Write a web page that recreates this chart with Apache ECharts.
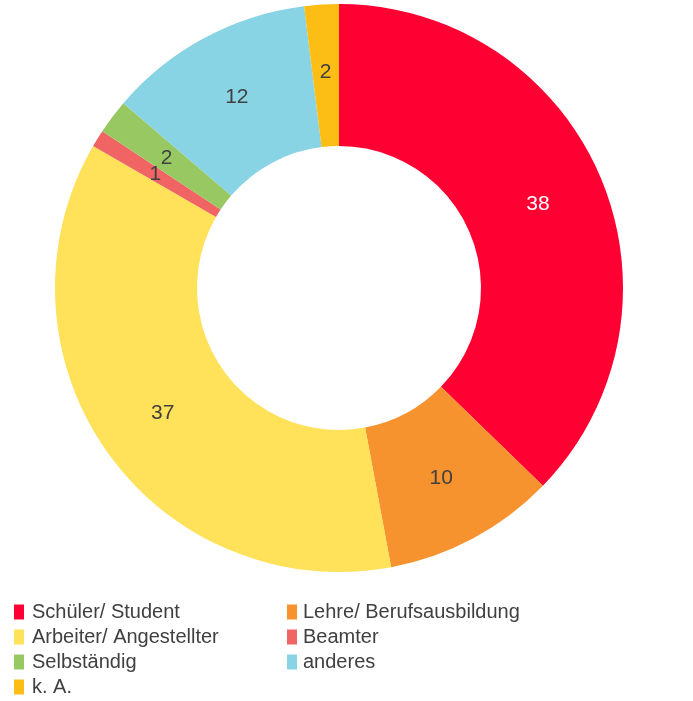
<!DOCTYPE html>
<html lang="de">
<head>
<meta charset="utf-8">
<title>Tätigkeit</title>
<style>
  html, body { margin: 0; padding: 0; background: #fff; }
  #chart { width: 693px; height: 701px; }
</style>
</head>
<body>
<div id="chart"></div>
<script src="https://cdn.jsdelivr.net/npm/echarts@6/dist/echarts.min.js"></script>
<script>
  var categories = ['Schüler/ Student', 'Lehre/ Berufsausbildung', 'Arbeiter/ Angestellter',
    'Beamter', 'Selbständig', 'anderes', 'k. A.'];
  var values = [38, 10, 37, 1, 2, 12, 2];
  var colors = ['#FF0033', '#F7932F', '#FFE15A', '#F06464', '#98C862', '#88D3E4', '#FCBE14'];
  var labelColors = ['#ffffff', '#404040', '#404040', '#404040', '#404040', '#404040', '#404040'];

  var leftLegend = [categories[0], categories[2], categories[4], categories[6]];
  var rightLegend = [categories[1], categories[3], categories[5]];

  var chart = echarts.init(document.getElementById('chart'));

  var legendBase = {
    orient: 'vertical',
    top: 602,
    height: 99,
    icon: 'rect',
    itemWidth: 10,
    itemHeight: 15,
    itemGap: 5,
    padding: 0,
    selectedMode: false,
    textStyle: {
      fontFamily: 'Liberation Sans, Arial, sans-serif',
      fontSize: 20,
      lineHeight: 20,
      color: '#404040'
    }
  };

  chart.setOption({
    animation: false,
    color: colors,
    legend: [
      Object.assign({}, legendBase, { left: 14, data: leftLegend,
        textStyle: Object.assign({}, legendBase.textStyle, { padding: [0, 0, 0, 3] }) }),
      Object.assign({}, legendBase, { left: 287, data: rightLegend,
        textStyle: Object.assign({}, legendBase.textStyle, { padding: [0, 0, 0, 1] }) })
    ],
    series: [{
      type: 'pie',
      center: [339, 288],
      radius: [142, 284],
      startAngle: 90,
      clockwise: true,
      avoidLabelOverlap: false,
      labelLayout: { hideOverlap: false },
      label: {
        show: true,
        position: 'inside',
        fontFamily: 'Liberation Sans, Arial, sans-serif',
        fontSize: 21,
        formatter: '{c}'
      },
      labelLine: { show: false },
      itemStyle: { borderWidth: 0 },
      emphasis: { disabled: true },
      data: categories.map(function (name, i) {
        return {
          name: name,
          value: values[i],
          label: { color: labelColors[i] }
        };
      })
    }]
  });
</script>
</body>
</html>
